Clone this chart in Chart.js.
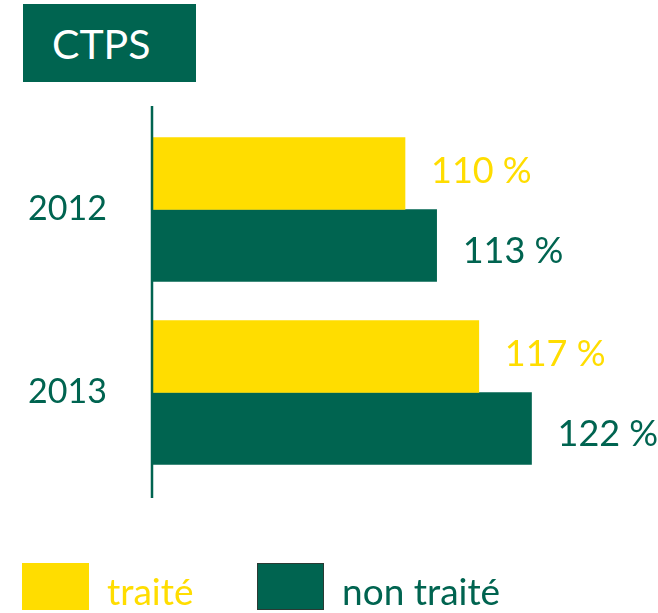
<!DOCTYPE html>
<html>
<head>
<meta charset="utf-8">
<script src="https://cdn.jsdelivr.net/npm/chart.js@4"></script>
<style>
  html, body { margin: 0; padding: 0; background: #fff; }
  #wrap { position: relative; width: 658px; height: 613px; font-family: Lato, sans-serif; }
  #title { position: absolute; left: 23px; top: 4px; width: 144px; height: 78px; padding-left: 29px;
           background: #006450; color: #fff; font-size: 41px; line-height: 80px; }
  #legend { position: absolute; left: 0; top: 563px; width: 658px; height: 50px; }
  .item { position: absolute; top: 0; height: 47px; }
  .box { position: absolute; left: 0; top: 0; width: 67px; height: 47px; box-sizing: border-box; }
  .txt { position: absolute; left: 85px; top: 4px; font-size: 37px; line-height: 47px; white-space: nowrap; }
</style>
</head>
<body>
<div id="wrap">
  <canvas id="ctps" width="658" height="613"></canvas>
  <div id="title">CTPS</div>
  <div id="legend"></div>
</div>
<script>
var years = ['2012', '2013'];
var traite = [110, 117];
var nonTraite = [113, 122];

var yellow = '#FFDD00';
var green = '#006450';

// value labels at the end of each bar
var valueLabels = {
  id: 'valueLabels',
  afterDatasetsDraw: function (chart) {
    var ctx = chart.ctx;
    ctx.save();
    ctx.font = '36px Lato, sans-serif';
    ctx.textBaseline = 'middle';
    ctx.textAlign = 'left';
    chart.data.datasets.forEach(function (ds, i) {
      ctx.fillStyle = ds.backgroundColor;
      chart.getDatasetMeta(i).data.forEach(function (bar, j) {
        ctx.fillText(ds.data[j] + ' %', bar.x + 26, bar.y + (i === 0 ? -2 : 6));
      });
    });
    ctx.restore();
  }
};

// vertical axis line, a bit longer than the plot area
var axisLine = {
  id: 'axisLine',
  afterDatasetsDraw: function (chart) {
    var ctx = chart.ctx, a = chart.chartArea;
    ctx.save();
    ctx.strokeStyle = green;
    ctx.lineWidth = 2.5;
    ctx.beginPath();
    ctx.moveTo(a.left, a.top - 12);
    ctx.lineTo(a.left, a.bottom + 14);
    ctx.stroke();
    ctx.restore();
  }
};

var chart = new Chart(document.getElementById('ctps'), {
  type: 'bar',
  data: {
    labels: years,
    datasets: [{
      label: 'traité',
      data: traite,
      backgroundColor: yellow,
      barThickness: 72
    }, {
      label: 'non traité',
      data: nonTraite,
      backgroundColor: green,
      barThickness: 72
    }]
  },
  options: {
    indexAxis: 'y',
    responsive: false,
    animation: false,
    layout: { padding: { top: 118, bottom: 129, left: 0, right: 0 } },
    plugins: {
      legend: { display: false },
      tooltip: { enabled: false }
    },
    scales: {
      x: {
        display: false,
        min: 86,
        max: 134
      },
      y: {
        grid: { display: false },
        border: { display: false },
        afterFit: function (scale) { scale.width = 152; },
        ticks: {
          color: green,
          padding: 37,
          font: { family: 'Lato, sans-serif', size: 34 }
        }
      }
    }
  },
  plugins: [valueLabels, axisLine]
});

// legend built from the datasets
var legend = document.getElementById('legend');
var lefts = [22, 257];
chart.data.datasets.forEach(function (ds, i) {
  var item = document.createElement('div');
  item.className = 'item';
  item.style.left = lefts[i] + 'px';
  var box = document.createElement('div');
  box.className = 'box';
  box.style.background = ds.backgroundColor;
  if (i === 1) box.style.border = '1px solid #2a3a34';
  var txt = document.createElement('div');
  txt.className = 'txt';
  txt.style.color = ds.backgroundColor;
  txt.textContent = ds.label;
  item.appendChild(box);
  item.appendChild(txt);
  legend.appendChild(item);
});
</script>
</body>
</html>
